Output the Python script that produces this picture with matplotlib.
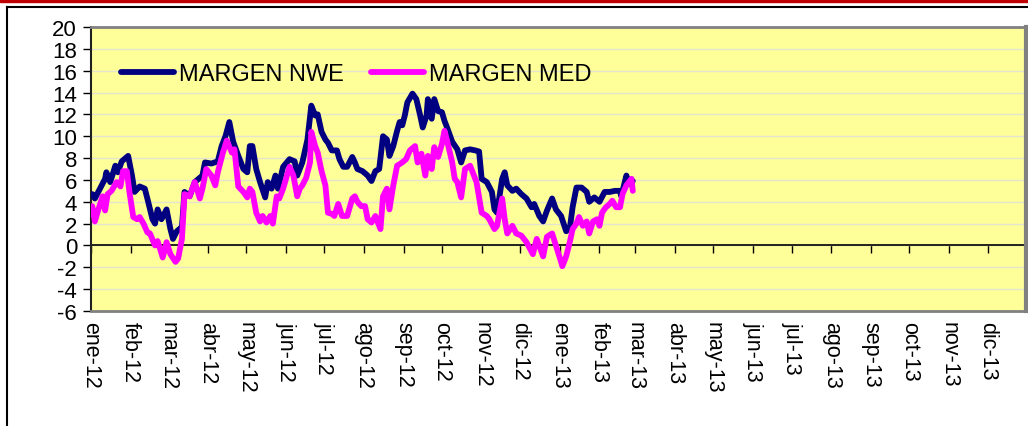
import matplotlib
matplotlib.use('Agg')
import numpy as np
import pandas as pd
import matplotlib.pyplot as plt
from matplotlib.lines import Line2D
from matplotlib.patches import Rectangle

# MARGEN NWE
nwe_dates = ['2012-01-02', '2012-01-04', '2012-01-08', '2012-01-12', '2012-01-13', '2012-01-16',
             '2012-01-20', '2012-01-22', '2012-01-25', '2012-01-29', '2012-01-30', '2012-02-02',
             '2012-02-04', '2012-02-08', '2012-02-12', '2012-02-14', '2012-02-18', '2012-02-20',
             '2012-02-22', '2012-02-25', '2012-02-29', '2012-03-03', '2012-03-05', '2012-03-08',
             '2012-03-12', '2012-03-14', '2012-03-18', '2012-03-22', '2012-03-28', '2012-03-30',
             '2012-04-04', '2012-04-09', '2012-04-12', '2012-04-15', '2012-04-18', '2012-04-21',
             '2012-04-25', '2012-04-29', '2012-05-02', '2012-05-04', '2012-05-06', '2012-05-09',
             '2012-05-12', '2012-05-16', '2012-05-18', '2012-05-21', '2012-05-24', '2012-05-26',
             '2012-05-30', '2012-06-04', '2012-06-08', '2012-06-10', '2012-06-14', '2012-06-18',
             '2012-06-21', '2012-06-24', '2012-06-26', '2012-06-29', '2012-07-02', '2012-07-04',
             '2012-07-07', '2012-07-11', '2012-07-13', '2012-07-16', '2012-07-19', '2012-07-23',
             '2012-07-25', '2012-07-27', '2012-07-31', '2012-08-04', '2012-08-07', '2012-08-10',
             '2012-08-13', '2012-08-16', '2012-08-19', '2012-08-21', '2012-08-24', '2012-08-27',
             '2012-08-29', '2012-08-31', '2012-09-02', '2012-09-04', '2012-09-08', '2012-09-11',
             '2012-09-14', '2012-09-16', '2012-09-19', '2012-09-20', '2012-09-23', '2012-09-25',
             '2012-09-28', '2012-10-01', '2012-10-03', '2012-10-05', '2012-10-09', '2012-10-13',
             '2012-10-16', '2012-10-19', '2012-10-23', '2012-10-27', '2012-10-30', '2012-11-01',
             '2012-11-05', '2012-11-09', '2012-11-11', '2012-11-13', '2012-11-17', '2012-11-19',
             '2012-11-21', '2012-11-25', '2012-11-28', '2012-12-02', '2012-12-06', '2012-12-10',
             '2012-12-12', '2012-12-16', '2012-12-19', '2012-12-22', '2012-12-26', '2012-12-29',
             '2013-01-02', '2013-01-06', '2013-01-09', '2013-01-11', '2013-01-14', '2013-01-18',
             '2013-01-22', '2013-01-24', '2013-01-28', '2013-02-01', '2013-02-05', '2013-02-09',
             '2013-02-13', '2013-02-17', '2013-02-18', '2013-02-22', '2013-02-24', '2013-02-27']
nwe_vals = [4.7, 4.3, 5.2, 6.1, 6.7, 5.8, 7.3, 6.7, 7.7, 8.1, 8.2, 6.4,
            4.9, 5.4, 5.2, 4.3, 2.4, 2.0, 3.3, 2.4, 3.3, 1.5, 0.6, 1.3,
            1.7, 4.9, 4.5, 5.8, 6.4, 7.6, 7.5, 7.7, 9.1, 10.0, 11.3, 9.5,
            8.2, 7.0, 6.7, 9.1, 9.1, 7.0, 5.8, 4.4, 5.8, 5.2, 6.4, 5.2,
            7.2, 7.9, 7.7, 6.4, 7.6, 9.7, 12.8, 11.9, 12.0, 10.4, 9.7, 9.4,
            8.7, 8.7, 7.9, 7.2, 7.2, 8.1, 7.6, 7.0, 6.8, 6.4, 5.9, 6.8,
            7.0, 10.0, 9.7, 8.2, 9.1, 10.5, 11.3, 11.0, 11.9, 13.1, 13.9, 13.4,
            11.9, 10.8, 11.9, 13.4, 11.6, 13.4, 12.3, 12.2, 11.4, 10.8, 9.5, 8.8,
            7.6, 8.7, 8.8, 8.7, 8.6, 6.1, 5.8, 4.9, 3.3, 3.0, 6.1, 6.7,
            5.5, 5.0, 5.2, 4.7, 4.3, 3.5, 3.8, 2.7, 2.2, 3.2, 4.3, 3.3,
            2.7, 1.3, 1.7, 3.5, 5.3, 5.3, 4.9, 4.0, 4.4, 4.0, 4.9, 4.9,
            5.0, 5.0, 4.5, 6.4, 5.6, 5.9]

# MARGEN MED
med_dates = ['2012-01-02', '2012-01-04', '2012-01-06', '2012-01-10', '2012-01-12', '2012-01-14',
             '2012-01-17', '2012-01-21', '2012-01-24', '2012-01-26', '2012-01-29', '2012-01-31',
             '2012-02-03', '2012-02-06', '2012-02-08', '2012-02-11', '2012-02-14', '2012-02-16',
             '2012-02-20', '2012-02-22', '2012-02-26', '2012-02-29', '2012-03-03', '2012-03-07',
             '2012-03-09', '2012-03-12', '2012-03-14', '2012-03-18', '2012-03-22', '2012-03-26',
             '2012-03-28', '2012-03-31', '2012-04-04', '2012-04-07', '2012-04-09', '2012-04-13',
             '2012-04-16', '2012-04-20', '2012-04-22', '2012-04-25', '2012-04-29', '2012-05-02',
             '2012-05-04', '2012-05-06', '2012-05-09', '2012-05-12', '2012-05-14', '2012-05-17',
             '2012-05-20', '2012-05-22', '2012-05-25', '2012-05-27', '2012-05-30', '2012-06-02',
             '2012-06-04', '2012-06-07', '2012-06-10', '2012-06-12', '2012-06-14', '2012-06-17',
             '2012-06-20', '2012-06-21', '2012-06-24', '2012-06-26', '2012-06-29', '2012-07-02',
             '2012-07-04', '2012-07-07', '2012-07-09', '2012-07-12', '2012-07-15', '2012-07-19',
             '2012-07-23', '2012-07-25', '2012-07-27', '2012-07-30', '2012-08-02', '2012-08-04',
             '2012-08-07', '2012-08-10', '2012-08-12', '2012-08-14', '2012-08-16', '2012-08-19',
             '2012-08-21', '2012-08-24', '2012-08-27', '2012-08-31', '2012-09-03', '2012-09-06',
             '2012-09-10', '2012-09-12', '2012-09-15', '2012-09-18', '2012-09-20', '2012-09-23',
             '2012-09-25', '2012-09-28', '2012-10-01', '2012-10-03', '2012-10-05', '2012-10-09',
             '2012-10-11', '2012-10-13', '2012-10-16', '2012-10-19', '2012-10-23', '2012-10-25',
             '2012-10-28', '2012-11-01', '2012-11-05', '2012-11-07', '2012-11-11', '2012-11-13',
             '2012-11-17', '2012-11-19', '2012-11-21', '2012-11-25', '2012-11-28', '2012-12-02',
             '2012-12-06', '2012-12-11', '2012-12-14', '2012-12-19', '2012-12-22', '2012-12-26',
             '2012-12-29', '2013-01-02', '2013-01-03', '2013-01-06', '2013-01-09', '2013-01-11',
             '2013-01-14', '2013-01-16', '2013-01-19', '2013-01-22', '2013-01-24', '2013-01-27',
             '2013-01-30', '2013-02-01', '2013-02-03', '2013-02-06', '2013-02-09', '2013-02-11',
             '2013-02-14', '2013-02-17', '2013-02-19', '2013-02-22', '2013-02-24', '2013-02-26',
             '2013-02-27']
med_vals = [3.6, 2.2, 3.0, 4.5, 3.2, 4.7, 5.0, 5.8, 5.4, 6.8, 6.8, 4.9,
            2.6, 2.4, 2.6, 2.0, 1.2, 1.1, 0.0, 0.4, -1.1, 0.3, -0.8, -1.5,
            -1.2, 0.6, 4.7, 4.5, 5.8, 4.3, 5.2, 7.0, 6.4, 5.5, 6.7, 8.5,
            9.6, 8.5, 8.8, 5.4, 4.9, 4.4, 5.2, 4.9, 3.0, 2.2, 2.7, 2.1,
            2.7, 2.0, 4.5, 4.3, 5.2, 6.4, 7.2, 6.4, 4.5, 5.2, 5.5, 6.2,
            7.6, 10.4, 9.1, 8.5, 6.8, 5.5, 3.0, 2.9, 2.7, 3.8, 2.7, 2.7,
            4.3, 4.5, 4.0, 3.6, 3.6, 2.4, 2.1, 2.7, 2.1, 1.5, 4.5, 5.2,
            3.3, 5.5, 7.3, 7.6, 7.9, 8.7, 9.1, 7.6, 8.4, 6.4, 8.2, 7.0,
            9.0, 8.1, 9.3, 10.5, 9.6, 7.6, 6.1, 5.8, 4.4, 7.0, 7.3, 6.7,
            5.8, 3.0, 2.7, 2.4, 1.5, 1.8, 4.3, 2.4, 1.1, 1.8, 1.1, 0.9,
            0.3, -0.8, 0.6, -1.0, 0.8, 1.1, 0.0, -1.5, -1.9, -1.0, 0.4, 1.5,
            2.0, 2.6, 1.8, 2.2, 1.1, 2.2, 2.4, 1.8, 3.0, 3.5, 3.8, 4.1,
            3.5, 3.5, 4.7, 5.5, 5.8, 6.1, 5.0]

month_labels = ['ene', 'feb', 'mar', 'abr', 'may', 'jun',
                'jul', 'ago', 'sep', 'oct', 'nov', 'dic']
years = ['12', '13']
yticks = list(range(-6, 21, 2))

plt.rcParams['font.family'] = ['Liberation Sans', 'DejaVu Sans']

fig = plt.figure(figsize=(10.28, 4.27), dpi=100)
fig.patches.append(Rectangle((0, 1 - 3 / 427), 1, 3 / 427, transform=fig.transFigure,
                             color='#c00000', zorder=0))
fig.lines.append(Line2D([7 / 1028, 7 / 1028], [0, 1 - 8 / 427], transform=fig.transFigure,
                        color='black', lw=1.5))
fig.lines.append(Line2D([7 / 1028, 1], [1 - 8 / 427, 1 - 8 / 427], transform=fig.transFigure,
                        color='black', lw=1.5))

ax = fig.add_axes([91 / 1028, 115 / 427, 935 / 1028, 284 / 427])
ax.set_facecolor('#ffff99')

nwe_x = pd.to_datetime(nwe_dates)
med_x = pd.to_datetime(med_dates)
ax.plot(nwe_x, nwe_vals, color='#000080', lw=4.2, label='MARGEN NWE',
        solid_joinstyle='round', solid_capstyle='round', zorder=3)
ax.plot(med_x, med_vals, color='#ff00ff', lw=4.2, label='MARGEN MED',
        solid_joinstyle='round', solid_capstyle='round', zorder=4)

ax.set_ylim(-6, 20)
ax.set_yticks(yticks)
ax.set_yticklabels([str(v) for v in yticks])
ax.yaxis.grid(True, color='#e4e4d0', lw=1)
ax.set_axisbelow(True)
ax.axhline(0, color='black', lw=1.2, zorder=2)

ticks = pd.date_range('2012-01-01', '2013-12-01', freq='MS')
ax.set_xlim(pd.Timestamp('2012-01-01'), pd.Timestamp('2013-12-31'))
ax.set_xticks(ticks)
ax.set_xticklabels([f'{month_labels[t.month - 1]}-{years[t.year - 2012]}' for t in ticks],
                   rotation=-90, fontsize=15.5)
ax.tick_params(axis='x', length=0, pad=7)
ax.tick_params(axis='y', length=6, width=1, direction='out', labelsize=16, pad=4)

# category axis crossing at zero, with its tick marks
sec = ax.secondary_xaxis(6 / 26)
sec.set_xticks(ticks)
sec.tick_params(axis='x', length=6, width=1, direction='out', labelbottom=False)
sec.spines['bottom'].set_visible(False)

for side in ['top', 'bottom']:
    ax.spines[side].set_color('#808080')
    ax.spines[side].set_linewidth(2)
ax.spines['right'].set_color('#808080')
ax.spines['right'].set_linewidth(3)
ax.spines['left'].set_color('#202020')
ax.spines['left'].set_linewidth(1.5)

ax.legend(loc='upper left', bbox_to_anchor=(0.022, 0.905), ncol=2, frameon=False,
          fontsize=17, handlelength=2.25, handletextpad=0.2, columnspacing=1.15,
          borderaxespad=0)

plt.savefig('out.png', dpi=100)
